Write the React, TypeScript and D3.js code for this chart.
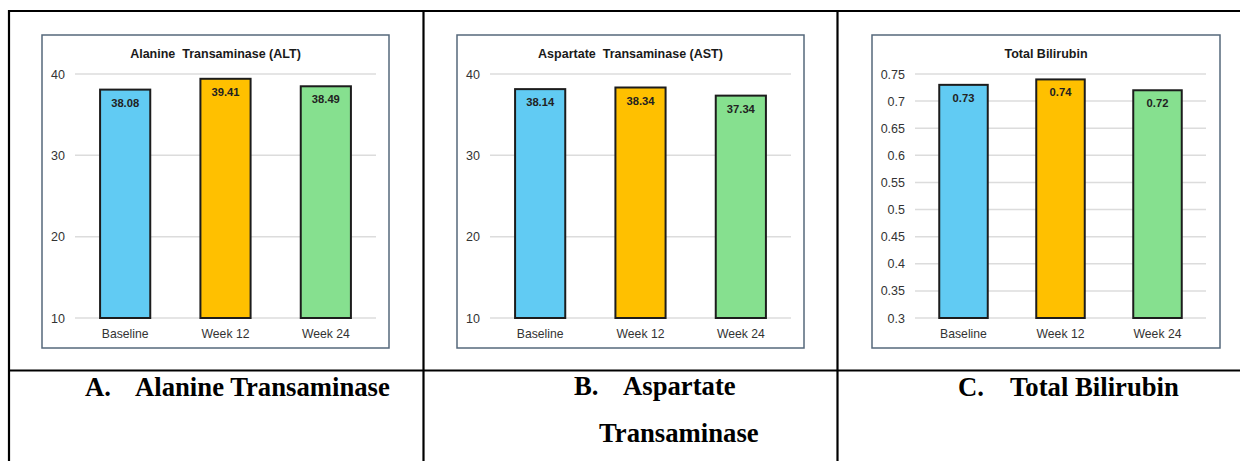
import React from "react";
import * as d3 from "d3";

// Visits shared by all three panels
const categories = ["Baseline", "Week 12", "Week 24"];

// Mean values per visit
const altValues = [38.08, 39.41, 38.49];
const astValues = [38.14, 38.34, 37.34];
const bilirubinValues = [0.73, 0.74, 0.72];

// Y-axis ticks
const enzymeTicks = [10, 20, 30, 40];
const bilirubinTicks = [0.3, 0.35, 0.4, 0.45, 0.5, 0.55, 0.6, 0.65, 0.7, 0.75];
const bilirubinTickLabels = ["0.3", "0.35", "0.4", "0.45", "0.5", "0.55", "0.6", "0.65", "0.7", "0.75"];

const barColors = ["#61CBF3", "#FFC000", "#86E08F"];

const SANS = "'Liberation Sans', Arial, sans-serif";
const SERIF = "'Liberation Serif', 'Times New Roman', serif";

type PanelProps = {
  title: string;
  values: number[];
  ticks: number[];
  tickLabels: string[];
  domain: [number, number];
  frame: { x0: number; x1: number; y0: number; y1: number };
  plot: { x0: number; x1: number; y0: number; y1: number };
};

function BarPanel({ title, values, ticks, tickLabels, domain, frame, plot }: PanelProps) {
  const x = d3
    .scaleBand<string>()
    .domain(categories)
    .range([plot.x0, plot.x1])
    .paddingInner(0.5)
    .paddingOuter(0.25);
  const y = d3.scaleLinear().domain(domain).range([plot.y1, plot.y0]);

  return (
    <g>
      <rect
        x={frame.x0}
        y={frame.y0}
        width={frame.x1 - frame.x0}
        height={frame.y1 - frame.y0}
        fill="#ffffff"
        stroke="#55687b"
        strokeWidth={1.5}
      />
      <text
        x={(frame.x0 + frame.x1) / 2}
        y={57.5}
        textAnchor="middle"
        fontFamily={SANS}
        fontWeight="bold"
        fontSize={12.5}
        fill="#1a1a1a"
        style={{ whiteSpace: "pre" }}
      >
        {title}
      </text>
      {ticks.map((t, i) => (
        <g key={i}>
          <line x1={plot.x0} x2={plot.x1} y1={y(t)} y2={y(t)} stroke="#dcdcdc" strokeWidth={1.5} />
          <text
            x={plot.x0 - 10}
            y={y(t) + 4.5}
            textAnchor="end"
            fontFamily={SANS}
            fontSize={12.5}
            fill="#333333"
          >
            {tickLabels[i]}
          </text>
        </g>
      ))}
      {categories.map((c, i) => {
        const v = values[i];
        const bx = x(c) as number;
        const top = y(v);
        return (
          <g key={c}>
            <rect
              x={bx}
              y={top}
              width={x.bandwidth()}
              height={y(domain[0]) - top}
              fill={barColors[i]}
              stroke="#1c1c1c"
              strokeWidth={2}
            />
            <text
              x={bx + x.bandwidth() / 2}
              y={top + 17}
              textAnchor="middle"
              fontFamily={SANS}
              fontWeight="bold"
              fontSize={11.2}
              fill="#222222"
            >
              {v.toFixed(2)}
            </text>
            <text
              x={bx + x.bandwidth() / 2}
              y={337.5}
              textAnchor="middle"
              fontFamily={SANS}
              fontSize={12.2}
              fill="#333333"
            >
              {c}
            </text>
          </g>
        );
      })}
    </g>
  );
}

export default function App() {
  const capSize = 26.7;
  const capStyle = { fontFamily: SERIF, fontWeight: "bold" as const, fontSize: capSize, fill: "#000" };
  return (
    <svg
      width={1240}
      height={461}
      style={{ position: "absolute", left: 0, top: 0, background: "#ffffff" }}
    >
      <rect x={0} y={0} width={1240} height={461} fill="#ffffff" />

      <BarPanel
        title={"Alanine  Transaminase (ALT)"}
        values={altValues}
        ticks={enzymeTicks}
        tickLabels={enzymeTicks.map(String)}
        domain={[10, 40]}
        frame={{ x0: 42, x1: 389, y0: 35, y1: 348 }}
        plot={{ x0: 75, x1: 376, y0: 74, y1: 318 }}
      />
      <BarPanel
        title={"Aspartate  Transaminase (AST)"}
        values={astValues}
        ticks={enzymeTicks}
        tickLabels={enzymeTicks.map(String)}
        domain={[10, 40]}
        frame={{ x0: 457, x1: 804, y0: 35, y1: 348 }}
        plot={{ x0: 490, x1: 791, y0: 74, y1: 318 }}
      />
      <BarPanel
        title={"Total Bilirubin"}
        values={bilirubinValues}
        ticks={bilirubinTicks}
        tickLabels={bilirubinTickLabels}
        domain={[0.3, 0.75]}
        frame={{ x0: 872, x1: 1220, y0: 35, y1: 348 }}
        plot={{ x0: 915, x1: 1206, y0: 74, y1: 318 }}
      />

      {/* table rules */}
      <g stroke="#000" strokeWidth={2.2}>
        <line x1={8} x2={1240} y1={11} y2={11} />
        <line x1={8} x2={1240} y1={370.5} y2={370.5} />
        <line x1={9} x2={9} y1={10} y2={461} />
        <line x1={423.5} x2={423.5} y1={10} y2={461} />
        <line x1={837.5} x2={837.5} y1={10} y2={461} />
      </g>

      {/* captions */}
      <text x={85} y={396} {...capStyle}>A.</text>
      <text x={135} y={396} {...capStyle}>Alanine Transaminase</text>
      <text x={574} y={395} {...capStyle}>B.</text>
      <text x={623} y={395} {...capStyle}>Aspartate</text>
      <text x={599} y={441.5} {...capStyle}>Transaminase</text>
      <text x={958} y={396} {...capStyle}>C.</text>
      <text x={1010} y={396} {...capStyle}>Total Bilirubin</text>
    </svg>
  );
}
